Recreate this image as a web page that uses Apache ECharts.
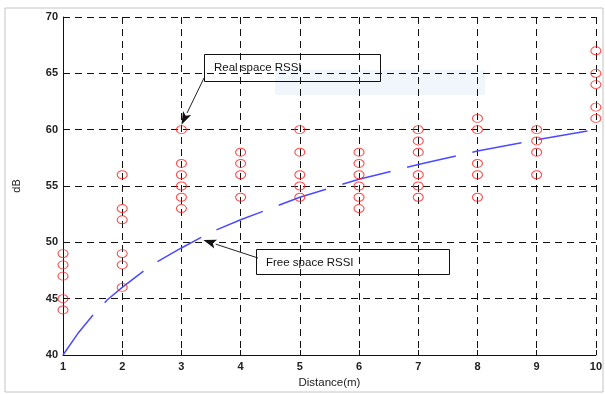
<!DOCTYPE html>
<html>
<head>
<meta charset="utf-8">
<script src="https://cdn.jsdelivr.net/npm/echarts@6/dist/echarts.min.js"></script>
<style>
html,body{margin:0;padding:0;background:#fff;}
#c{width:605px;height:394px;}
</style>
</head>
<body>
<div id="c"></div>
<script>
// ---- data ----
const distances = [1, 2, 3, 4, 5, 6, 7, 8, 9, 10];
const realRssi = [
  [44, 45, 47, 48, 49],        // 1 m
  [46, 48, 49, 52, 53, 56],    // 2 m
  [53, 54, 55, 56, 57, 60],    // 3 m
  [54, 56, 57, 58],            // 4 m
  [54, 55, 56, 58, 60],        // 5 m
  [53, 54, 55, 56, 57, 58],    // 6 m
  [54, 55, 56, 58, 59, 60],    // 7 m
  [54, 56, 57, 60, 61],        // 8 m
  [56, 58, 59, 60],            // 9 m
  [61, 62, 64, 65, 67]         // 10 m
];
const freeDist = [1, 1.25, 1.5, 1.75, 2, 2.5, 3, 3.5, 4, 5, 6, 7, 8, 9, 10];
const freeRssi = [40, 41.9, 43.5, 44.9, 46.0, 48.0, 49.5, 50.9, 52.0, 54.0, 55.6, 56.9, 58.1, 59.1, 60.0];
const yTicks = [40, 45, 50, 55, 60, 65, 70];
const xLabel = 'Distance(m)';
const yLabel = 'dB';
const realLabel = 'Real space RSSI';
const freeLabel = 'Free space RSSI';

// ---- build ----
const realPoints = [];
distances.forEach((d, i) => realRssi[i].forEach(v => realPoints.push([d, v])));
const freePoints = freeDist.map((d, i) => [d, freeRssi[i]]);

const chart = echarts.init(document.getElementById('c'), null, {renderer: 'canvas'});
const font = 'Arial, "Liberation Sans", sans-serif';
const gridDash = {color: '#111', width: 1, type: [7, 5]};

chart.setOption({
  animation: false,
  backgroundColor: '#fff',
  grid: {left: 63, right: 8, top: 17, bottom: 39},
  xAxis: {
    type: 'value', min: distances[0], max: distances[distances.length - 1], interval: 1,
    name: xLabel, nameLocation: 'middle', nameGap: 19,
    nameTextStyle: {fontFamily: font, fontSize: 11.5, color: '#222'},
    axisLine: {show: true, onZero: false, lineStyle: {color: '#111', width: 1}},
    axisTick: {show: true, inside: true, length: 5, lineStyle: {color: '#111'}},
    axisLabel: {fontFamily: font, fontSize: 11, color: '#222', fontWeight: 'bold', margin: 6},
    splitLine: {show: true, lineStyle: gridDash}
  },
  yAxis: {
    type: 'value', min: yTicks[0], max: yTicks[yTicks.length - 1], interval: yTicks[1] - yTicks[0],
    name: yLabel, nameLocation: 'middle', nameGap: 41, nameRotate: 90,
    nameTextStyle: {fontFamily: font, fontSize: 11, color: '#222'},
    axisLine: {show: true, onZero: false, lineStyle: {color: '#111', width: 1}},
    axisTick: {show: true, inside: true, length: 5, lineStyle: {color: '#111'}},
    axisLabel: {fontFamily: font, fontSize: 11, color: '#222', fontWeight: 'bold', margin: 5},
    splitLine: {show: true, lineStyle: gridDash}
  },
  series: [
    {
      type: 'line', data: freePoints, smooth: false,
      showSymbol: false, symbol: 'none',
      lineStyle: {color: '#4a4aff', width: 1.5, type: [50, 17]},
      z: 3
    },
    {
      type: 'scatter', data: realPoints, symbol: 'circle', symbolSize: [10, 8],
      itemStyle: {color: 'rgba(0,0,0,0)', borderColor: '#ff2020', borderWidth: 1},
      z: 4
    }
  ]
});

function arrow(sx, sy, tx, ty) {
  const dx = tx - sx, dy = ty - sy, L = Math.hypot(dx, dy);
  const ux = dx / L, uy = dy / L, hl = 13, hw = 4.5;
  const bx = tx - ux * hl, by = ty - uy * hl;
  return [
    {type: 'line', shape: {x1: sx, y1: sy, x2: bx, y2: by}, style: {stroke: '#222', lineWidth: 1}, z: 10},
    {type: 'polygon', shape: {points: [[tx, ty], [bx - uy * hw, by + ux * hw], [bx + ux * 3, by + uy * 3], [bx + uy * hw, by - ux * hw]]},
     style: {fill: '#111'}, z: 10}
  ];
}

const tip1 = chart.convertToPixel({gridIndex: 0}, [3, 60]);
const tip2 = chart.convertToPixel({gridIndex: 0}, [3.37, 50.2]);

const g = [
  {type: 'rect', shape: {x: 5, y: 8, width: 598, height: 384}, style: {fill: 'none', stroke: '#c4c4c4', lineWidth: 1}, z: 1},
  {type: 'rect', shape: {x: 275, y: 70, width: 210, height: 25}, style: {fill: '#f1f5fc'}, z: -10},
  {type: 'rect', shape: {x: 204.5, y: 54.5, width: 176, height: 27}, style: {fill: 'none', stroke: '#111', lineWidth: 1}, z: 10},
  {type: 'text', x: 214, y: 68, style: {text: realLabel, font: '11.5px ' + font, fill: '#111', textVerticalAlign: 'middle'}, z: 10},
  {type: 'rect', shape: {x: 256.5, y: 249.5, width: 193, height: 25}, style: {fill: 'none', stroke: '#111', lineWidth: 1}, z: 10},
  {type: 'text', x: 266, y: 263, style: {text: freeLabel, font: '11.5px ' + font, fill: '#111', textVerticalAlign: 'middle'}, z: 10}
].concat(arrow(204, 78, tip1[0], tip1[1] - 5)).concat(arrow(258, 258, tip2[0], tip2[1]));

chart.setOption({graphic: g});
</script>
</body>
</html>
